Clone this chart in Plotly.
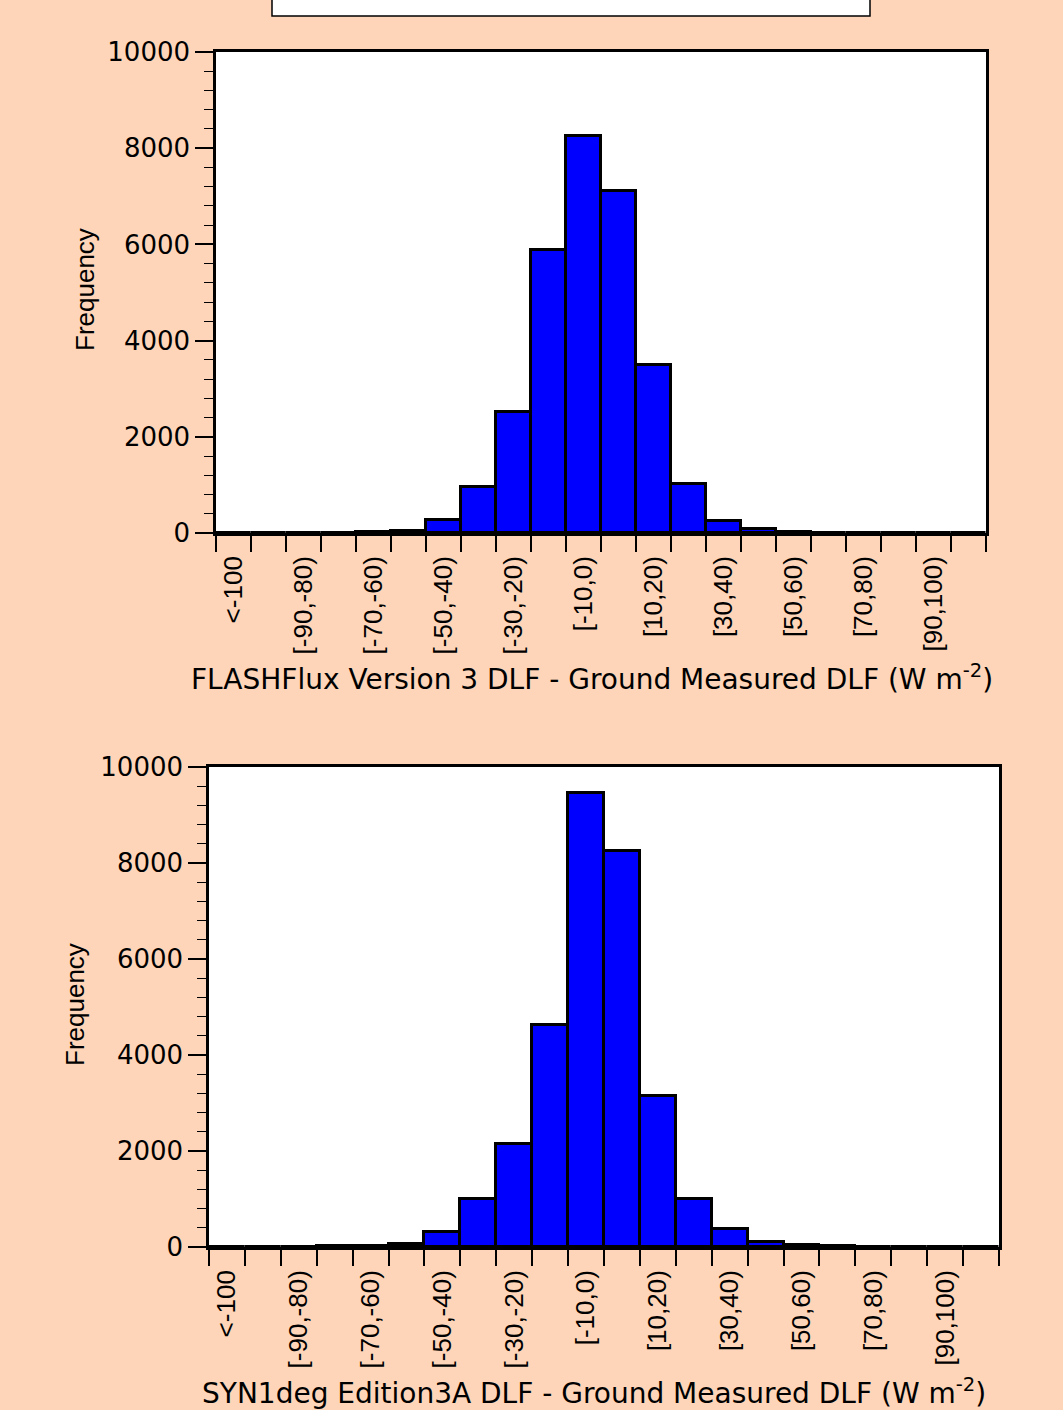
import plotly.graph_objects as go

W, H = 1063, 1410

bin_labels = ["<-100", "[-100,-90)", "[-90,-80)", "[-80,-70)", "[-70,-60)", "[-60,-50)",
              "[-50,-40)", "[-40,-30)", "[-30,-20)", "[-20,-10)", "[-10,0)", "[0,10)",
              "[10,20)", "[20,30)", "[30,40)", "[40,50)", "[50,60)", "[60,70)",
              "[70,80)", "[80,90)", "[90,100)", ">=100"]

top_counts = [5, 5, 5, 10, 15, 40, 260, 950, 2510, 5890, 8260, 7110,
              3490, 1020, 255, 80, 20, 10, 5, 5, 5, 5]
bottom_counts = [5, 5, 10, 15, 20, 70, 320, 1000, 2150, 4630, 9450, 8260,
                 3140, 1005, 380, 110, 40, 20, 10, 5, 5, 5]

y_ticks = [0, 2000, 4000, 6000, 8000, 10000]
y_ticktext = ["0", "2000", "4000", "6000", "8000", "10000"]

top_xtitle = "FLASHFlux Version 3 DLF - Ground Measured DLF (W m<sup>-2</sup>)"
bottom_xtitle = "SYN1deg Edition3A DLF - Ground Measured DLF (W m<sup>-2</sup>)"
ytitle = "Frequency"

BG = "#FED5B8"
idx = list(range(len(bin_labels)))
label_idx = idx[::2][:11]
label_txt = [bin_labels[i] for i in label_idx]
boundaries = [i - 0.5 for i in range(len(bin_labels) + 1)]

fig = go.Figure()
fig.add_trace(go.Bar(x=idx, y=top_counts, width=1, xaxis="x", yaxis="y",
                     marker=dict(color="#0000FF", line=dict(color="black", width=3)),
                     hovertext=bin_labels, showlegend=False))
fig.add_trace(go.Bar(x=idx, y=bottom_counts, width=1, xaxis="x2", yaxis="y2",
                     marker=dict(color="#0000FF", line=dict(color="black", width=3)),
                     hovertext=bin_labels, showlegend=False))

def xaxis(domain, anchor):
    return dict(domain=domain, anchor=anchor, range=[-0.5, len(bin_labels) - 0.5],
                automargin=False,
                tickmode="array", tickvals=label_idx, ticktext=label_txt,
                ticks="outside", ticklen=10, tickcolor="rgba(0,0,0,0)", tickangle=-90,
                tickfont=dict(family="Liberation Sans", size=26, color="black"),
                minor=dict(tickmode="array", tickvals=boundaries, ticks="outside",
                           ticklen=16, tickwidth=1.5, tickcolor="black"),
                showline=True, linecolor="black", linewidth=2.5, mirror=True,
                showgrid=False, zeroline=False, fixedrange=True)

def yaxis(domain, anchor):
    return dict(domain=domain, anchor=anchor, range=[0, 10000],
                automargin=False,
                tickmode="array", tickvals=y_ticks, ticktext=y_ticktext,
                ticks="outside", ticklen=18, tickwidth=1.5, tickcolor="black",
                tickfont=dict(family="DejaVu Sans", size=26, color="black"),
                minor=dict(dtick=400, ticks="outside", ticklen=9, tickwidth=1.2,
                           tickcolor="black"),
                showline=True, linecolor="black", linewidth=2.5, mirror=True,
                showgrid=False, zeroline=False, fixedrange=True)

fig.update_layout(
    width=W, height=H,
    margin=dict(l=0, r=0, t=0, b=0, pad=0, autoexpand=False),
    paper_bgcolor=BG, plot_bgcolor="white",
    bargap=0,
    xaxis=xaxis([216 / W, 986 / W], "y"),
    yaxis=yaxis([1 - 533 / H, 1 - 52 / H], "x"),
    xaxis2=xaxis([209 / W, 999 / W], "y2"),
    yaxis2=yaxis([1 - 1247 / H, 1 - 767 / H], "x2"),
)

# partially visible white title box at the top
fig.add_shape(type="rect", xref="paper", yref="paper",
              x0=272 / W, x1=870 / W, y0=1 - 16 / H, y1=1.05,
              fillcolor="white", line=dict(color="black", width=1.5))

ann_font = dict(family="DejaVu Sans", size=28, color="black")
fig.add_annotation(text=top_xtitle, xref="paper", yref="paper",
                   x=592 / W, y=1 - 677 / H, xanchor="center", yanchor="middle",
                   showarrow=False, font=ann_font)
fig.add_annotation(text=bottom_xtitle, xref="paper", yref="paper",
                   x=594 / W, y=1 - 1391 / H, xanchor="center", yanchor="middle",
                   showarrow=False, font=ann_font)
yfont = dict(family="Liberation Sans", size=26, color="black")
fig.add_annotation(text=ytitle, xref="paper", yref="paper", textangle=-90,
                   x=85 / W, y=1 - 290 / H, xanchor="center", yanchor="middle",
                   showarrow=False, font=yfont)
fig.add_annotation(text=ytitle, xref="paper", yref="paper", textangle=-90,
                   x=75 / W, y=1 - 1005 / H, xanchor="center", yanchor="middle",
                   showarrow=False, font=yfont)

fig.write_html("out.html")
